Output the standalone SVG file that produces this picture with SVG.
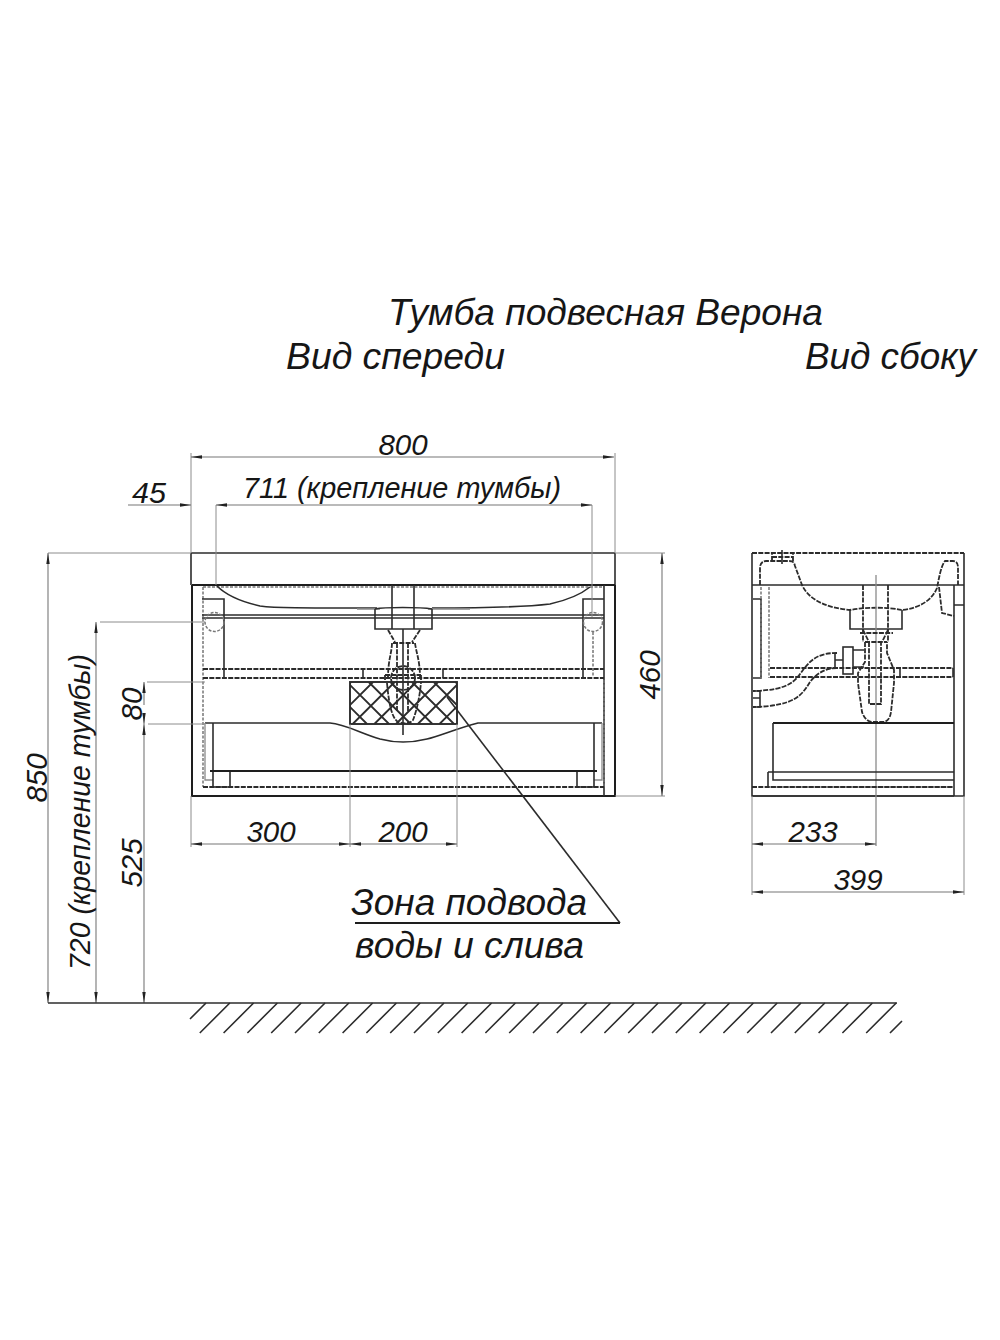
<svg xmlns="http://www.w3.org/2000/svg" width="1000" height="1340" viewBox="0 0 1000 1340">
<style>
text{font-family:"Liberation Sans",Arial,sans-serif;font-style:italic;fill:#161616}
.t{font-size:37px}.z{font-size:36px}.d{font-size:29.500px}
.s{fill:none;stroke:#2c2c2c;stroke-width:1.600}
.l{fill:none;stroke:#2c2c2c;stroke-width:1.900}
.b{fill:none;stroke:#1e1e1e;stroke-width:2}
.o{fill:none;stroke:#2c2c2c;stroke-width:1.800;stroke-dasharray:5 1.300}
.g{fill:none;stroke:#8a8a8a;stroke-width:1.300}
.gd{fill:none;stroke:#777;stroke-width:1.500;stroke-dasharray:3 1.500}
.x{fill:none;stroke:#8c8c8c;stroke-width:1}
.dm{fill:none;stroke:#777;stroke-width:1.100;marker-start:url(#a);marker-end:url(#a)}
.ds{fill:none;stroke:#777;stroke-width:1.100;marker-end:url(#a)}
</style>
<defs>
<marker id="a" markerUnits="userSpaceOnUse" markerWidth="11" markerHeight="5" refX="11" refY="2.5" orient="auto-start-reverse" viewBox="0 0 11 5"><path d="M0 .8L11 2.5L0 4.2Z" fill="#222"/></marker>
<clipPath id="lc"><rect x="350" y="682" width="107" height="42"/></clipPath>
</defs>

<g id="titles">
<text class="t" x="388" y="325" textLength="435" lengthAdjust="spacingAndGlyphs">Тумба подвесная Верона</text>
<text class="t" x="286" y="369" textLength="219" lengthAdjust="spacingAndGlyphs">Вид спереди</text>
<text class="t" x="805" y="369" textLength="171" lengthAdjust="spacingAndGlyphs">Вид сбоку</text>
</g>

<g id="front-view">
<path class="s" d="M191 553H615M191 553V585M615 553V585"/>
<path class="b" d="M192 585H615"/>
<path class="gd" d="M203 587H604"/>
<path class="b" d="M192 585V796H615V585"/>
<path class="s" d="M604 585V796"/>
<path class="gd" d="M203 587V787"/>
<path class="gd" d="M604 680V787"/>
<path class="s" d="M217 586C225 594 238 601 260 606C275 608 300 608 377 608"/>
<path class="s" d="M432 608C490 608 525 607 550 604C568 600 580 595 590 587"/>
<path class="g" d="M357 609H380M428 609H470"/>
<path class="s" d="M202 615H604M202 618H604"/>
<path class="s" d="M202 599H224V678M583 678V599H604"/>
<circle class="gd" cx="214.500" cy="622" r="9.500"/>
<circle class="gd" cx="593" cy="622" r="9.500"/>
<path class="gd" d="M593 632V677"/>
<path class="o" d="M203 669H604M203 678H604"/>
<path class="s" d="M363 669V678M443 669V678"/>
<g id="front-siphon">
<path class="s" d="M392 585V629M414 585V629"/>
<path class="s" d="M375 609V629H432V609M375 609C385 607 420 607 432 609"/>
<path class="s" d="M403 629V735"/>
<path class="o" d="M388 630L395 642M420 630L412 642"/>
<path class="o" d="M393 643H414M392 643C392 652 388 660 388 678M415 643C416 652 420 660 420 678"/>
<path class="o" d="M397 643V712M408 643V712"/>
<circle class="o" cx="403" cy="678" r="12"/>
<path class="o" d="M385 675H421M385 675V681M421 675V681"/>
<path class="o" d="M387 683C389 705 392 718 398 722C404 724 410 724 413 720C417 710 420 695 421 682"/>
</g>
<g id="water-zone">
<rect class="l" x="350" y="682" width="107" height="42"/>
<path class="l" clip-path="url(#lc)" d="M325 682L367 724M347 682L389 724M368.700 682L410.700 724M390.400 682L432.400 724M412 682L454 724M433.800 682L475.800 724M455.500 682L497.500 724M351 682L309 724M373 682L331 724M394.700 682L352.700 724M416.400 682L374.400 724M438 682L396 724M459.800 682L417.800 724M481.500 682L439.500 724M503 682L461 724"/>
</g>
<path class="s" d="M205 723H330C345 724 360 733 380 739C395 743 411 743 427 739C440 736 455 729 478 723H602"/>
<path class="g" d="M205 723V780H213M594 780H602V723" stroke-width="1.500"/>
<path class="s" d="M213 723V772"/>
<path class="s" d="M594 723V772"/>
<path class="b" d="M210 771H597"/>
<path class="s" d="M213 772V787H230V772M577 772V787H594V772"/>
<path class="o" d="M203 787H604"/>
</g>

<g id="side-view">
<path class="o" d="M752 553H964"/>
<path class="s" d="M752 553V796H964V553M752 585H964"/>
<path class="s" stroke-width="2" d="M752 796H954"/>
<path class="s" d="M954 585V796"/>
<path class="s" d="M753 599H761V678H753M954 605H964"/>
<path class="gd" d="M761 587V678M769 587V678"/>
<path class="o" d="M760 585V568C760 564 762 561 766 561H789C793 561 794 562 795 566L802 585C810 602 830 608 850 610C865 607 888 607 902 610C920 608 932 600 937 588C939 578 941 566 945 561H953C956 561 958 563 958 567V585"/>
<path class="o" d="M772 561V553M793 561V553M772 557H793"/>
<path class="s" d="M782 550V564"/>
<path class="s" d="M850 610V629H902V610"/>
<path class="o" d="M863 585V642M888 585V642"/>
<path class="g" d="M876 575V846"/>
<path class="o" d="M863 630L869 642M888 630L882 642M860 633H893"/>
<path class="o" d="M865 642H887M865 642V662L858 673V683L862 712C864 718 868 722 872 722H882C888 722 890 718 891 712L894 683V670L887 653V642"/>
<path class="o" d="M869 642V704H881V642"/>
<path class="o" d="M770 668H953M770 677H953"/>
<path class="s" d="M900 669V677M953 668V677"/>
<path class="o" d="M837 653C820 653 812 658 803 670C795 681 790 690 753 691"/>
<path class="o" d="M837 668C825 668 816 674 810 682C802 695 795 706 753 707"/>
<path class="s" d="M753 691H760V707H753M753 698H760"/>
<rect class="s" x="843" y="647" width="10" height="27"/>
<path class="s" d="M835 653V668M835 660H843M853 650H864M853 667H864"/>
<path class="o" d="M939 587L942 613L954 616"/>
<path class="b" d="M773 723H954" stroke-width="1.600"/>
<path class="s" d="M773 723V780H954M768 772H954M768 772V787"/>
<path class="g" d="M768 787H954"/>
<path class="o" d="M752 787H954"/>
</g>

<g id="connectors">
<path class="x" d="M191 453V553M615 453V553M216 505V585M592 505V617"/>
<path class="dm" d="M191 457H614"/>
<path class="ds" d="M128 505H191"/>
<path class="dm" d="M216 505H592"/>
<path class="x" d="M48 553H191M100 622H205M147 682H205M148 724H205M615 553H665M615 796H665"/>
<path class="dm" d="M48 553V1003"/>
<path class="dm" d="M96 622V1003"/>
<path class="dm" d="M144 724V1003"/>
<path class="ds" d="M144 705V682"/>
<path class="ds" d="M144 714V724"/>
<path class="dm" d="M662 553V796"/>
<path class="x" d="M191 796V847M350 724V847M457 724V847M752 796V895M964 796V895"/>
<path class="dm" d="M191 844H350"/>
<path class="dm" d="M350 844H457"/>
<path class="dm" d="M752 844H876"/>
<path class="dm" d="M752 892H964"/>
<path class="s" d="M447 697L620 923"/>
<path class="b" d="M355 923H620" stroke="#444"/>
</g>

<g id="dimensions">
<text class="d" x="403" y="455" text-anchor="middle">800</text>
<text class="d" x="132" y="503" textLength="34" lengthAdjust="spacingAndGlyphs">45</text>
<text class="d" x="243" y="498" textLength="318" lengthAdjust="spacingAndGlyphs">711 (крепление тумбы)</text>
<text class="d" x="271" y="842" text-anchor="middle">300</text>
<text class="d" x="403" y="842" text-anchor="middle">200</text>
<text class="d" x="813" y="842" text-anchor="middle">233</text>
<text class="d" x="858" y="890" text-anchor="middle">399</text>
<text class="d" transform="translate(660 675) rotate(-90)" text-anchor="middle">460</text>
<text class="d" transform="translate(47 778) rotate(-90)" text-anchor="middle">850</text>
<text class="d" transform="translate(90 812) rotate(-90)" text-anchor="middle" textLength="316" lengthAdjust="spacingAndGlyphs">720 (крепление тумбы)</text>
<text class="d" transform="translate(142 863) rotate(-90)" text-anchor="middle">525</text>
<text class="d" transform="translate(142 704) rotate(-90)" text-anchor="middle">80</text>
<text class="z" x="351" y="915" textLength="236" lengthAdjust="spacingAndGlyphs">Зона подвода</text>
<text class="z" x="355" y="958" textLength="229" lengthAdjust="spacingAndGlyphs">воды и слива</text>
</g>

<g id="ground">
<path class="s" d="M48 1003H897"/>
<path class="s" stroke-width="1.300" d="M206 1003L190 1019M229.800 1003L199.800 1033M253.600 1003L223.600 1033M277.400 1003L247.400 1033M301.200 1003L271.200 1033M325 1003L295 1033M348.800 1003L318.800 1033M372.600 1003L342.600 1033M396.400 1003L366.400 1033M420.200 1003L390.200 1033M444 1003L414 1033M467.800 1003L437.800 1033M491.600 1003L461.600 1033M515.400 1003L485.400 1033M539.200 1003L509.200 1033M563 1003L533 1033M586.800 1003L556.800 1033M610.600 1003L580.600 1033M634.400 1003L604.400 1033M658.200 1003L628.200 1033M682 1003L652 1033M705.800 1003L675.800 1033M729.600 1003L699.600 1033M753.400 1003L723.400 1033M777.200 1003L747.200 1033M801 1003L771 1033M824.800 1003L794.800 1033M848.600 1003L818.600 1033M872.400 1003L842.400 1033M896.200 1003L866.200 1033M902 1021L890 1033"/>
</g>
</svg>
